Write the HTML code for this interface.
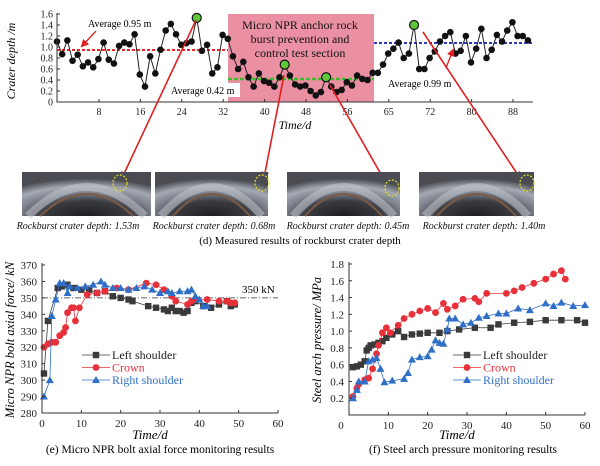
<!DOCTYPE html>
<html><head><meta charset="utf-8"><style>
html,body{margin:0;padding:0;background:#fff;}
svg{display:block;font-family:"Liberation Serif",serif;}
</style></head><body>
<svg id="s" width="600" height="466" viewBox="0 0 600 466" xmlns="http://www.w3.org/2000/svg">
<defs>
<radialGradient id="ph" cx="50%" cy="100%" r="85%">
<stop offset="0" stop-color="#1e1e20"/><stop offset="0.4" stop-color="#3a3b40"/><stop offset="0.62" stop-color="#7d818b"/><stop offset="0.8" stop-color="#a4a9b3"/><stop offset="1" stop-color="#4a4c52"/>
</radialGradient>
<marker id="ar" markerWidth="8" markerHeight="8" refX="6" refY="4" orient="auto" markerUnits="userSpaceOnUse"><path d="M0,0 L8,4 L0,8 z" fill="#e02020"/></marker>
</defs>
<rect x="228" y="14" width="146" height="88" fill="#e77c93" opacity="0.85"/>
<g font-size="12" text-anchor="middle" fill="#111">
<text x="300" y="29">Micro NPR anchor rock</text>
<text x="300" y="43">burst prevention and</text>
<text x="300" y="57">control test section</text>
</g>
<line x1="57" y1="50" x2="228" y2="50" stroke="#e8262a" stroke-width="2" stroke-dasharray="3,2"/>
<line x1="228" y1="79" x2="374" y2="79" stroke="#3bbf2a" stroke-width="2.5" stroke-dasharray="4,2"/>
<line x1="374" y1="43" x2="533" y2="43" stroke="#2a3bbf" stroke-width="2" stroke-dasharray="3,2"/>
<g id="topg"></g>
<g stroke="#333" stroke-width="1" fill="none"><path d="M57,13 V102 H533"/></g>
<g id="topax" font-size="10" fill="#222"></g>
<text x="10" y="60" font-size="12" font-style="italic" transform="rotate(-90 13 58)" text-anchor="middle">Crater depth /m</text>
<text x="295" y="129" font-size="12" font-style="italic" text-anchor="middle">Time/d</text>
<text x="88" y="27" font-size="10">Average  0.95 m</text>
<line x1="96" y1="31" x2="82" y2="46" stroke="#e02020" stroke-width="1.3" marker-end="url(#ar)"/>
<rect x="168" y="83" width="72" height="14" fill="#fff"/>
<text x="171" y="94" font-size="10">Average  0.42 m</text>
<text x="388" y="87" font-size="10">Average  0.99 m</text>
<line x1="446" y1="68" x2="453" y2="50" stroke="#e02020" stroke-width="1.3" marker-end="url(#ar)"/>
<g stroke="#e02020" stroke-width="1.6" marker-end="url(#ar)">
<line x1="196" y1="20" x2="122" y2="178"/>
<line x1="284" y1="75" x2="264" y2="178"/>
<line x1="330" y1="85" x2="386" y2="183"/>
<line x1="423" y1="32" x2="520" y2="178"/>
</g>
<g id="photos"></g>
<g font-size="10" font-style="italic" text-anchor="middle" fill="#111">
<text x="78" y="229">Rockburst crater depth: 1.53m</text>
<text x="214" y="229">Rockburst crater depth: 0.68m</text>
<text x="348" y="229">Rockburst crater depth: 0.45m</text>
<text x="484" y="229">Rockburst crater depth: 1.40m</text>
</g>
<text x="300" y="244" font-size="11" text-anchor="middle">(d) Measured results of rockburst crater depth</text>
<g id="bl"></g><g id="br"></g>
</svg>
<script>
(function(){
const NS="http://www.w3.org/2000/svg";
function el(p,t,a,txt){const e=document.createElementNS(NS,t);for(const k in a)e.setAttribute(k,a[k]);if(txt!==undefined)e.textContent=txt;p.appendChild(e);return e;}
const v=[1.1,0.87,1.12,0.75,0.86,0.65,0.72,0.63,0.78,1.08,0.77,0.7,1.02,1.08,1.05,1.23,0.5,0.28,0.83,0.52,0.95,1.3,1.42,1.23,1.04,1.07,1.1,1.53,0.93,1.04,0.52,0.63,1.22,1.15,0.83,0.6,0.73,0.45,0.28,0.52,0.38,0.35,0.28,0.45,0.68,0.48,0.32,0.28,0.3,0.2,0.12,0.18,0.45,0.28,0.18,0.22,0.36,0.3,0.48,0.42,0.4,0.53,0.53,0.68,0.88,0.97,1.08,0.8,0.88,1.4,0.6,0.6,0.8,0.92,1.1,1.2,1.27,0.88,0.93,1.2,0.72,0.97,1.33,0.8,0.95,1.22,1.1,1.3,1.45,1.2,1.2,1.12];
const greens=[27,44,52,69];
const topG=document.getElementById('topg');
const TX=i=>57+i*5.175, TY=val=>102-val*55;
el(topG,'polyline',{points:v.map((a,i)=>TX(i)+','+TY(a)).join(' '),fill:'none',stroke:'#222','stroke-width':1});
v.forEach((a,i)=>{const g=greens.includes(i);el(topG,'circle',{cx:TX(i),cy:TY(a),r:g?4.5:3.3,fill:g?'#5ec83a':'#111',stroke:'#111','stroke-width':g?1.2:0});});
const ta=document.getElementById('topax');
for(let k=0;k<=8;k++){const y=102-k*11;el(ta,'text',{x:53,y:y+3.5,'text-anchor':'end'},(k*0.2).toFixed(k==0?0:1));el(ta,'line',{x1:57,y1:y,x2:60,y2:y,stroke:'#333'});}
["8","16","24","32","40","48","56","65","72","80","88"].forEach((t,i)=>{const x=99+i*41.4;el(ta,'text',{x:x,y:115,'text-anchor':'middle'},t);el(ta,'line',{x1:x,y1:102,x2:x,y2:99,stroke:'#333'});});
const ph=document.getElementById('photos');
[[22,151,120,183],[155,268,262,183],[287,400,392,188],[419,534,527,183]].forEach(([x1,x2,cx,cy])=>{
 el(ph,'rect',{x:x1,y:172,width:x2-x1,height:44,fill:'url(#ph)'});
 el(ph,'path',{d:`M${x1+6},216 Q${(x1+x2)/2},158 ${x2-6},216`,fill:'none',stroke:'#c4c8d0','stroke-width':8,opacity:0.55});
 el(ph,'path',{d:`M${x1+18},216 Q${(x1+x2)/2},172 ${x2-18},216`,fill:'none',stroke:'#7a5a44','stroke-width':2});
 el(ph,'ellipse',{cx:cx,cy:cy,rx:7,ry:8,fill:'none',stroke:'#e6e020','stroke-width':1.2,'stroke-dasharray':'2,1.5'});
});
function mark(g,m,x,y,c){
 if(m=='s')el(g,'rect',{x:x-3.2,y:y-3.2,width:6.4,height:6.4,fill:c});
 else if(m=='c')el(g,'circle',{cx:x,cy:y,r:3.4,fill:c});
 else el(g,'path',{d:`M${x},${y-4} L${x+4},${y+3} L${x-4},${y+3}z`,fill:c});
}
function chart(gid,o){
 const g=document.getElementById(gid);
 const X=t=>o.x0+(t-o.xmin)/(o.xmax-o.xmin)*(o.x1-o.x0);
 const Y=val=>o.y0-(val-o.ymin)/(o.ymax-o.ymin)*(o.y0-o.y1);
 if(o.ref){el(g,'line',{x1:o.x0,y1:Y(o.ref),x2:o.x1,y2:Y(o.ref),stroke:'#333','stroke-width':0.8,'stroke-dasharray':'6,2,1,2'});el(g,'text',{x:o.x1-36,y:Y(o.ref)-5,'font-size':11},'350 kN');}
 o.series.forEach(s=>{
  el(g,'polyline',{points:s.d.map(p=>X(p[0])+','+Y(p[1])).join(' '),fill:'none',stroke:s.c,'stroke-width':0.8});
  s.d.forEach(p=>mark(g,s.m,X(p[0]),Y(p[1]),s.c));
 });
 el(g,'path',{d:`M${o.x0},${o.y1-2} V${o.yax} H${o.x1}`,fill:'none',stroke:'#333','stroke-width':1});
 o.yt.forEach(t=>{el(g,'text',{x:o.x0-5,y:Y(t)+4,'font-size':11,'text-anchor':'end',fill:'#222'},o.yf(t));el(g,'line',{x1:o.x0,y1:Y(t),x2:o.x0+3,y2:Y(t),stroke:'#333'});});
 for(let t=0;t<=60;t+=10){el(g,'text',{x:X(t)-(t==0?o.zoff:0),y:o.yax+14,'font-size':11,'text-anchor':'middle',fill:'#222'},t);el(g,'line',{x1:X(t),y1:o.yax,x2:X(t),y2:o.yax-3,stroke:'#333'});}
 el(g,'text',{x:(o.x0+o.x1)/2-10,y:439,'font-size':13,'font-style':'italic','text-anchor':'middle'},'Time/d');
 el(g,'text',{x:o.capx,y:453,'font-size':11.5,'text-anchor':'middle'},o.cap);
 el(g,'text',{x:0,y:0,'font-size':12.5,'font-style':'italic','text-anchor':'middle',transform:`translate(${o.ylx},${o.yly}) rotate(-90)`},o.yl);
 const names=['Left shoulder','Crown','Right shoulder'];
 o.series.forEach((s,i)=>{const y=355+i*12.5;el(g,'line',{x1:o.lx,y1:y,x2:o.lx+28,y2:y,stroke:s.c,'stroke-width':0.8});mark(g,s.m,o.lx+14,y,s.c);el(g,'text',{x:o.lx+30,y:y+4,'font-size':12,fill:s.tc},names[i]);});
}
chart('bl',{x0:42,x1:278,xmin:0,xmax:60,y0:413,y1:265,ymin:280,ymax:370,yax:413,ref:350,zoff:0,
 yt:[280,290,300,310,320,330,340,350,360,370],yf:t=>t,ylx:14,yly:340,yl:'Micro NPR bolt axial force/ kN',
 cap:'(e) Micro NPR  bolt axial  force monitoring results',capx:160,lx:82,
 series:[
 {c:'#3a3a3a',tc:'#222',m:'s',d:[[0.5,304],[1.5,336],[4,356],[5,357],[6.5,358],[8,356],[10,355],[12,355],[14,353],[16,354],[18,351],[20,350],[22,349],[23,348],[27,345],[29,344],[31,343],[32,342],[33,344],[34,342],[35,342],[36,341],[37,342],[38,347],[39,348],[41,345],[43,344],[45,346],[47,348],[48,345],[49,346]]},
 {c:'#e8303a',tc:'#e8303a',m:'c',d:[[0.5,320],[1.5,322],[2.5,323],[3.5,323],[4.5,327],[5.5,329],[6,332],[6.5,341],[7.5,344],[8,344],[8.5,336],[9.5,344],[11.5,352],[14,353],[16,354],[19,356],[22,355],[26.5,359],[29,358],[31,355],[33,351],[34,348],[37,346],[38,348],[39,349],[42,349],[45,348],[47,348],[48,347],[49,347]]},
 {c:'#2f6fc8',tc:'#2f6fc8',m:'t',d:[[0.5,290],[2,300],[2.5,339],[3.5,349],[4.5,359],[5.5,359],[6.5,353],[7,357],[9,356],[11,357],[13,358],[15,360],[16,358],[18,356],[20,356],[22,355],[24,356],[26,357],[28,355],[30,353],[32,354],[33,353],[35,354],[37,354],[38,355],[39,351],[40,349],[41,345],[42,345]]}
 ]});
chart('br',{x0:349,x1:585,xmin:0,xmax:60,y0:415,y1:264,ymin:0,ymax:1.8,yax:415,zoff:8,
 yt:[0.2,0.4,0.6,0.8,1.0,1.2,1.4,1.6,1.8],yf:t=>t.toFixed(1),ylx:321,yly:340,yl:'Steel arch pressure/ MPa',
 cap:'(f) Steel  arch pressure monitoring results',capx:463,lx:453,
 series:[
 {c:'#3a3a3a',tc:'#222',m:'s',d:[[1,0.57],[2,0.58],[3,0.6],[4,0.64],[4.5,0.77],[5,0.8],[5.5,0.83],[6.5,0.84],[7.5,0.86],[8.5,0.88],[9.5,0.92],[11,0.96],[12.5,1.0],[14,0.93],[16,0.96],[18,0.97],[20,0.98],[23,0.98],[25,1.0],[28,1.02],[32,1.04],[36,1.04],[38,1.08],[42,1.1],[46,1.11],[50,1.13],[54,1.13],[58,1.13],[60,1.1]]},
 {c:'#e8303a',tc:'#e8303a',m:'c',d:[[1,0.22],[2,0.32],[2.5,0.37],[4,0.42],[5,0.44],[6,0.55],[7,0.73],[7.5,0.83],[8.5,0.98],[9.5,1.04],[10.5,0.98],[12.5,1.07],[14,1.15],[16,1.2],[18,1.24],[20,1.27],[22,1.22],[24,1.33],[25,1.26],[27,1.3],[29,1.38],[32,1.39],[33,1.35],[35,1.45],[40,1.45],[42,1.48],[44,1.52],[47,1.57],[50,1.62],[52,1.68],[54,1.72],[55,1.62]]},
 {c:'#2f6fc8',tc:'#2f6fc8',m:'t',d:[[1,0.2],[2,0.3],[2.5,0.4],[4,0.4],[5,0.64],[6,0.66],[7,0.68],[8,0.55],[9,0.39],[11,0.41],[14,0.43],[15,0.5],[16,0.66],[18,0.69],[20,0.7],[21,0.78],[22,0.89],[23,0.86],[24,0.85],[25,1.02],[25.5,1.15],[27,1.15],[29,1.08],[31,1.1],[33,1.16],[35,1.18],[38,1.21],[40,1.21],[43,1.27],[46,1.25],[50,1.33],[52,1.3],[54,1.34],[57,1.3],[60,1.31]]}
 ]});
})();
</script>
</body></html>
